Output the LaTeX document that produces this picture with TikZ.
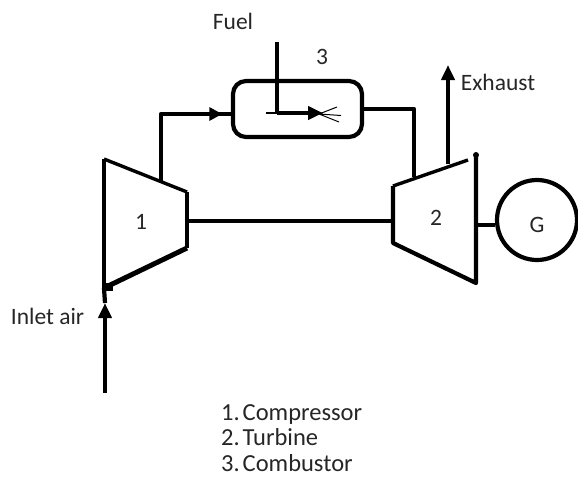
\documentclass[tikz,border=0pt]{standalone}
\usepackage{fontspec}
\setmainfont{Carlito}
\usetikzlibrary{arrows.meta,decorations.markings}
\tikzset{
 pipe/.style={line width=4.2pt,line cap=butt,line join=round,black},
 slim/.style={line width=3.4pt,line cap=butt,line join=round,black},
 heavy/.style={line width=5pt,line cap=butt,line join=round,black},
 thinpipe/.style={line width=3.4pt,black},
 spray/.style={line width=1pt,black},
 lbl/.style={font=\fontsize{23.5}{26}\selectfont,text=black!85,inner sep=0pt},
 legendtext/.style={font=\fontsize{24.5}{25.5}\selectfont,text=black!85,inner sep=0pt},
 arrowhead/.style={-{Triangle[length=15pt,width=13pt]}},
 midarrow/.style={postaction={decorate},decoration={markings,mark=at position #1 with {\arrow{Triangle[length=13pt,width=13pt]}}}}
}
\begin{document}
\begin{tikzpicture}[x=1pt,y=-1pt]
\useasboundingbox (0,0) rectangle (578,477);
% compressor
\coordinate (c1) at (104,159); \coordinate (c2) at (187,192);
\coordinate (c3) at (187,248); \coordinate (c4) at (104,288);
\draw[slim] (c1) -- (c2);
\draw[pipe] (c2) -- (c3);
\draw[heavy] (c3) -- (c4);
\draw[pipe] (c4) -- (c1);
\fill (101.5,283) rectangle (113,291);
% turbine
\coordinate (t1) at (393,186); \coordinate (t2) at (393,243);
\coordinate (t3) at (476,283); \coordinate (t4) at (476,155);
\coordinate (t5) at (468,160);
\draw[slim] (t5) -- (t1);
\draw[pipe] (t1) -- (t2) -- (t3) -- (t4);
\fill (t4) circle (3pt);
% combustor
\node[draw,line width=4.2pt,rounded corners=13pt,minimum width=129pt,minimum height=56pt,inner sep=0pt] (comb) at (297.5,109) {};
% generator
\node[draw,circle,line width=4.2pt,minimum size=80pt,inner sep=0pt] (gen) at (537,220) {};
\node[lbl] (glbl) at (537,225) {G};
% free ends
\coordinate (inlet) at (105,393);
\coordinate (inletend) at (105,303);
\coordinate (cout) at (161,182);
\coordinate (cbend) at (161,114);
\coordinate (cin) at (232,114);
\coordinate (tbend) at (414,109);
\coordinate (tin) at (414,177);
\coordinate (exS) at (448,164);
\coordinate (exE) at (448,65);
\coordinate (fuelS) at (277,42);
\coordinate (fuelJ) at (277,113);
\coordinate (inj0) at (266,113);
\coordinate (inj1) at (323,113);
\coordinate (sp0) at (319,114);
\coordinate (sp1) at (337,107);
\coordinate (sp2) at (341,115.5);
\coordinate (sp3) at (339,122);
% connectors
\draw[pipe,arrowhead] (inlet) -- (inletend);
\draw[pipe] (inletend) -- (c4);
\draw[pipe,midarrow=0.93] (cout) -- (cbend) -- (cin);
\draw[pipe] (comb.east |- tbend) -- (tbend) -- (tin);
\draw[pipe,arrowhead] (exS) -- (exE);
\draw[pipe] (fuelS) -- (fuelJ);
\draw[line width=2pt] (inj0) -- (fuelJ);
\draw[pipe,arrowhead] (fuelJ) -- (inj1);
\draw[spray] (sp0) -- (sp1) (sp0) -- (sp2) (sp0) -- (sp3);
\draw[thinpipe] (c2 |- 0,221) -- (t1 |- 0,221);
\draw[thinpipe] (t4 |- 0,225) -- (gen.west |- 0,225);
% labels
\node[lbl] (l1) at (141,222) {1};
\node[lbl] (l2) at (436,218) {2};
\node[lbl] (l3) at (322,57) {3};
\node[lbl] (fuel) at (233,21) {Fuel};
\node[lbl] (exh) at (498,82) {Exhaust};
\node[lbl] (air) at (47.5,316) {Inlet air};
\node[legendtext,align=left,anchor=north west] (legend) at (221,404) {1.\hspace{0.12em}Compressor\\2.\hspace{0.12em}Turbine\\3.\hspace{0.12em}Combustor};
\end{tikzpicture}
\end{document}
